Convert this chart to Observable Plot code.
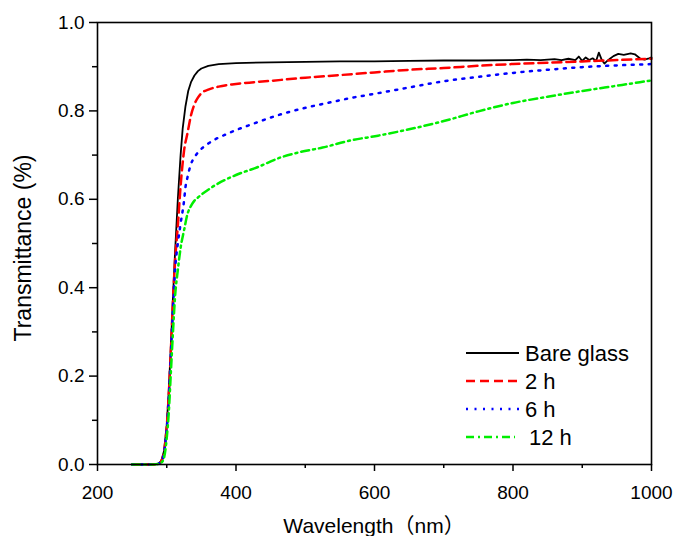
<!DOCTYPE html>
<html>
<head>
<meta charset="utf-8">
<script src="https://cdn.jsdelivr.net/npm/d3@7"></script>
<script src="https://cdn.jsdelivr.net/npm/@observablehq/plot@0.6"></script>
<style>
  html, body { margin: 0; padding: 0; background: #fff; }
  #chart { width: 673px; height: 536px; overflow: hidden; }
</style>
</head>
<body>
<div id="chart"></div>
<script>
// ---- Data ----
const seriesNames = ["Bare glass", "2 h", "6 h", "12 h"];

const bareWl = [250, 280, 288, 292, 296, 300, 303, 306, 309, 312, 316, 320, 323, 327, 331, 335, 340, 345, 350, 360, 375, 400, 450, 500, 550, 600, 650, 700, 750, 800, 820, 840, 860, 870, 880, 890, 895, 900, 905, 910, 915, 920, 924, 928, 932, 936, 940, 945, 952, 960, 970, 976, 984, 990, 995, 1000];
const bareT  = [0, 0, 0.002, 0.008, 0.03, 0.09, 0.17, 0.27, 0.38, 0.48, 0.60, 0.70, 0.76, 0.81, 0.845, 0.865, 0.88, 0.89, 0.896, 0.902, 0.906, 0.908, 0.910, 0.911, 0.912, 0.912, 0.913, 0.914, 0.914, 0.915, 0.916, 0.915, 0.917, 0.915, 0.918, 0.915, 0.923, 0.913, 0.921, 0.915, 0.919, 0.913, 0.932, 0.916, 0.907, 0.913, 0.918, 0.924, 0.929, 0.927, 0.930, 0.928, 0.918, 0.916, 0.918, 0.921];

const h2Wl = [250, 280, 288, 292, 296, 300, 303, 306, 309, 312, 316, 320, 325, 330, 335, 340, 345, 350, 360, 375, 400, 450, 500, 550, 600, 650, 700, 750, 800, 850, 900, 950, 1000];
const h2T  = [0, 0, 0.002, 0.007, 0.028, 0.085, 0.16, 0.26, 0.37, 0.46, 0.54, 0.63, 0.71, 0.75, 0.79, 0.815, 0.83, 0.84, 0.848, 0.855, 0.861, 0.868, 0.875, 0.881, 0.887, 0.893, 0.897, 0.902, 0.906, 0.909, 0.912, 0.915, 0.918];

const h6Wl = [250, 280, 288, 292, 296, 300, 303, 306, 309, 312, 316, 320, 325, 327, 330, 335, 340, 345, 360, 390, 425, 460, 495, 535, 565, 605, 650, 700, 750, 800, 850, 900, 950, 1000];
const h6T  = [0, 0, 0.002, 0.006, 0.025, 0.08, 0.15, 0.25, 0.35, 0.44, 0.50, 0.545, 0.597, 0.627, 0.65, 0.68, 0.695, 0.706, 0.726, 0.75, 0.771, 0.79, 0.805, 0.819, 0.829, 0.84, 0.853, 0.867, 0.877, 0.886, 0.893, 0.899, 0.903, 0.906];

const h12Wl = [250, 280, 288, 292, 296, 300, 303, 306, 309, 312, 316, 320, 325, 330, 335, 340, 345, 365, 400, 430, 465, 490, 525, 565, 605, 640, 700, 750, 800, 850, 900, 950, 1000];
const h12T  = [0, 0, 0.001, 0.004, 0.015, 0.06, 0.12, 0.21, 0.30, 0.38, 0.44, 0.49, 0.53, 0.567, 0.585, 0.597, 0.604, 0.627, 0.655, 0.672, 0.695, 0.706, 0.717, 0.733, 0.744, 0.755, 0.777, 0.799, 0.818, 0.832, 0.845, 0.857, 0.869];

const xMajorTicks = [200, 400, 600, 800, 1000];
const xMinorTicks = [300, 500, 700, 900];
const yMajorTicks = [0, 0.2, 0.4, 0.6, 0.8, 1.0];
const yMinorTicks = [0.1, 0.3, 0.5, 0.7, 0.9];

// ---- Styles ----
const styles = [
  {stroke: "#000000", dash: null,       width: 1.8},
  {stroke: "#ff0000", dash: "9,5",      width: 2.5},
  {stroke: "#0000ff", dash: "2,6.5",    width: 2.5},
  {stroke: "#00ee00", dash: "8,4,2,4",  width: 2.5}
];

const toRows = (wl, t) => wl.map((w, i) => ({w, t: t[i]}));
const allSeries = [toRows(bareWl, bareT), toRows(h2Wl, h2T), toRows(h6Wl, h6T), toRows(h12Wl, h12T)];

const W = 673, H = 536;
const mL = 97, mR = 22, mT = 22, mB = 72;

const lineMarks = allSeries.map((rows, i) => Plot.line(rows, {
  x: "w", y: "t",
  stroke: styles[i].stroke,
  strokeWidth: styles[i].width,
  strokeDasharray: styles[i].dash,
  curve: i === 0 ? "linear" : "monotone-x"
}));

const chart = Plot.plot({
  width: W, height: H,
  marginLeft: mL, marginRight: mR, marginTop: mT, marginBottom: mB,
  style: {fontFamily: "'Liberation Sans', Arial, sans-serif", fontSize: "19px", background: "#fff", color: "#000"},
  x: {domain: [200, 1000]},
  y: {domain: [0, 1]},
  marks: [
    ...lineMarks,
    Plot.axisX({ticks: xMajorTicks, tickSize: 7, tickPadding: 14, tickFormat: d => String(d), label: null, fontSize: 19, strokeWidth: 1.5}),
    Plot.axisX({ticks: xMinorTicks, tickSize: 4, text: null, label: null, strokeWidth: 1.5}),
    Plot.axisY({ticks: yMajorTicks, tickSize: 8, tickPadding: 5, tickFormat: d3.format(".1f"), label: null, fontSize: 19, strokeWidth: 1.5}),
    Plot.axisY({ticks: yMinorTicks, tickSize: 5, text: null, label: null, strokeWidth: 1.5}),
    Plot.frame({stroke: "#000", strokeWidth: 1.6})
  ]
});

document.getElementById("chart").appendChild(chart);

// ---- Titles and legend ----
const svg = d3.select(chart);
const fam = "'Liberation Sans', Arial, sans-serif";

svg.append("text")
  .attr("transform", `translate(23, ${mT + (H - mT - mB) / 2 + 5}) rotate(-90)`)
  .attr("text-anchor", "middle")
  .attr("dy", "0.36em")
  .attr("font-family", fam)
  .attr("font-size", 23)
  .attr("fill", "#000")
  .text("Transmittance (%)");

svg.append("text")
  .attr("x", mL + (W - mL - mR) / 2)
  .attr("y", 533)
  .attr("text-anchor", "middle")
  .attr("font-family", "'Liberation Sans', 'Noto Sans CJK SC', Arial, sans-serif")
  .attr("font-size", 21)
  .attr("fill", "#000")
  .text("Wavelength（nm）");

const legendRowsY = [353, 381, 409, 437];
const lg = svg.append("g").attr("text-anchor", "start");
seriesNames.forEach((name, i) => {
  const y = legendRowsY[i];
  lg.append("line")
    .attr("x1", 466).attr("x2", i === 3 ? 515 : 519)
    .attr("y1", y).attr("y2", y)
    .attr("stroke", styles[i].stroke)
    .attr("stroke-width", styles[i].width)
    .attr("stroke-dasharray", styles[i].dash);
  lg.append("text")
    .attr("x", i === 3 ? 529 : 525)
    .attr("y", y)
    .attr("dy", "0.36em")
    .attr("text-anchor", "start")
    .attr("font-family", fam)
    .attr("font-size", 22)
    .attr("fill", "#000")
    .text(name);
});
</script>
</body>
</html>
